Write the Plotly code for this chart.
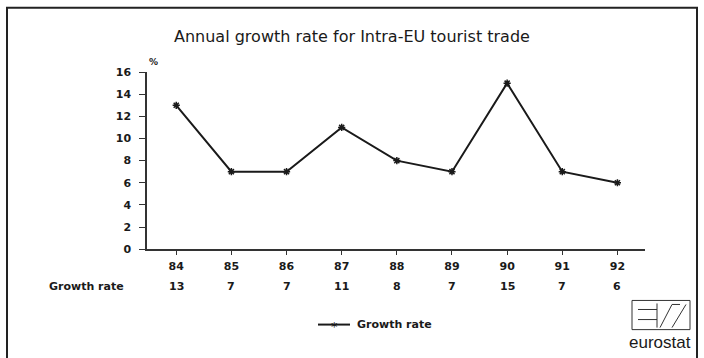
import plotly.graph_objects as go

years = ["84", "85", "86", "87", "88", "89", "90", "91", "92"]
growth = [13, 7, 7, 11, 8, 7, 15, 7, 6]
series_name = "Growth rate"
title = "Annual growth rate for Intra-EU tourist trade"

W, H = 704, 358
def px(x): return x / W
# vertical placement helper (target pixel row -> paper fraction)
def py(t):
    y = (t - 6.3) / 0.958
    return 1 - y / H

FONT = "DejaVu Sans, Verdana, sans-serif"
INK = "#1a1a1a"

fig = go.Figure()
fig.add_trace(go.Scatter(
    x=list(range(len(years))), y=growth, mode="lines+markers",
    line=dict(color=INK, width=2),
    marker=dict(symbol="asterisk", size=6, color=INK, line=dict(color=INK, width=1.5)),
    name=series_name, showlegend=False,
))

small = dict(size=11, family=FONT, color=INK, weight="bold")

fig.update_layout(
    width=W, height=H, margin=dict(l=0, r=0, t=0, b=0),
    paper_bgcolor="white", plot_bgcolor="white",
    font=dict(family=FONT, color=INK, size=11),
    xaxis=dict(domain=[px(147), px(645)], range=[-0.53, 8.5],
               tickmode="array", tickvals=list(range(len(years))), ticktext=years,
               ticks="outside", ticklen=4, tickcolor="#333", ticklabelstandoff=2,
               showline=True, linecolor="#333", linewidth=1.5, showgrid=False, zeroline=False,
               tickfont=small),
    yaxis=dict(domain=[py(248), py(72)], range=[0, 16], dtick=2,
               ticks="outside", ticklen=6, tickcolor="#333", ticklabelstandoff=6,
               showline=True, linecolor="#333", linewidth=1.5, showgrid=False, zeroline=False,
               tickfont=small),
)

ann = []
ann.append(dict(text=title, x=px(352), y=py(37), xref="paper", yref="paper",
                showarrow=False, font=dict(size=16, family=FONT, color=INK),
                xanchor="center", yanchor="middle"))
ann.append(dict(text="%", x=px(153), y=py(62), xref="paper", yref="paper",
                showarrow=False, font=dict(size=9, family=FONT, color=INK, weight="bold"),
                xanchor="center", yanchor="middle"))
ann.append(dict(text=series_name, x=px(47), y=py(285), xref="paper", yref="paper",
                showarrow=False, font=small, xanchor="left", yanchor="middle"))
for i, v in enumerate(growth):
    ann.append(dict(text=str(v), x=i, y=py(285), xref="x", yref="paper",
                    showarrow=False, font=small, xanchor="center", yanchor="middle"))
# legend
ann.append(dict(text=series_name, x=px(355), y=py(323), xref="paper", yref="paper",
                showarrow=False, font=small, xanchor="left", yanchor="middle"))
ann.append(dict(text="*", x=px(334), y=py(325), xref="paper", yref="paper",
                showarrow=False, font=dict(size=13, family=FONT, color=INK), xanchor="center", yanchor="middle"))
# eurostat logo text
ann.append(dict(text="eurostat", x=px(660), y=py(341), xref="paper", yref="paper",
                showarrow=False, font=dict(size=17, family="Liberation Sans Narrow, Arial Narrow, sans-serif", color=INK),
                xanchor="center", yanchor="middle"))
fig.update_layout(annotations=ann)

shapes = []
# outer border
shapes.append(dict(type="rect", xref="paper", yref="paper", x0=px(7), x1=px(697), y0=py(420), y1=py(8),
                   line=dict(color="#222", width=2)))
# legend line
shapes.append(dict(type="line", xref="paper", yref="paper", x0=px(318), x1=px(350), y0=py(323), y1=py(323),
                   line=dict(color=INK, width=2)))
# logo box
shapes.append(dict(type="rect", xref="paper", yref="paper", x0=px(632), x1=px(690), y0=py(328), y1=py(299),
                   line=dict(color="#333", width=1)))
logo_lines = [
    (638, 308, 657, 308), (638, 318, 657, 318), (657, 302, 657, 326),
    (660, 326, 672, 303), (672, 303, 680, 303), (672, 326, 686, 303),
]
for x0, y0, x1, y1 in logo_lines:
    shapes.append(dict(type="line", xref="paper", yref="paper", x0=px(x0), x1=px(x1), y0=py(y0), y1=py(y1),
                       line=dict(color="#333", width=1)))
fig.update_layout(shapes=shapes)

fig.write_html(
    "out.html",
    config={"displayModeBar": False},
    post_script=("var d=document.getElementById('{plot_id}');"
                 "d.style.position='fixed';d.style.top='0px';d.style.left='0px';"
                 "document.body.style.margin='0';document.body.style.overflow='hidden';"
                 "document.documentElement.style.overflow='hidden';"),
)
